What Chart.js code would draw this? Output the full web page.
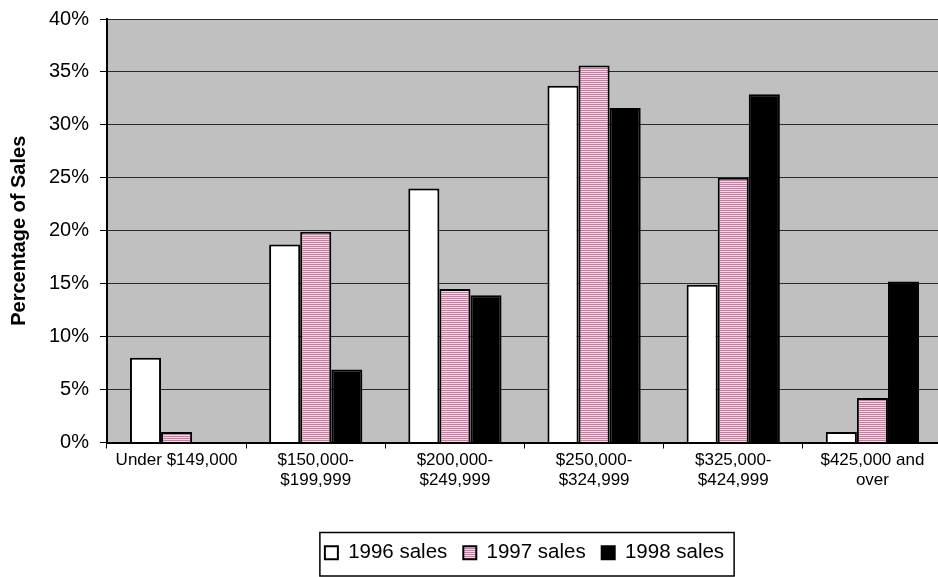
<!DOCTYPE html>
<html>
<head>
<meta charset="utf-8">
<title>Home sales by price range</title>
<script src="https://cdn.jsdelivr.net/npm/chart.js@4/dist/chart.umd.min.js"></script>
<style>
  html, body { margin: 0; padding: 0; background: #fff; overflow: hidden; }
  #chart { display: block; }
</style>
</head>
<body>
<canvas id="chart" width="942" height="577"></canvas>
<script>
// price ranges and share of sales (%) per year
const priceRanges = [
  "Under $149,000",
  ["$150,000-", "$199,999"],
  ["$200,000-", "$249,999"],
  ["$250,000-", "$324,999"],
  ["$325,000-", "$424,999"],
  ["$425,000 and", "over"],
]
const sales1996 = [8.0, 18.7, 24.0, 33.7, 14.9, 1.0]
const sales1997 = [1.0, 19.9, 14.5, 35.6, 25.0, 4.2]
const sales1998 = [0, 6.9, 13.9, 31.6, 32.9, 15.2]
const yTicks = [0, 5, 10, 15, 20, 25, 30, 35, 40]

// striped fill for the 1997 bars
function stripes() {
  const c = document.createElement("canvas")
  c.width = 4
  c.height = 2
  const g = c.getContext("2d")
  g.fillStyle = "#c97ca2"
  g.fillRect(0, 0, 4, 1)
  g.fillStyle = "#f4d6e6"
  g.fillRect(0, 1, 4, 1)
  return g.createPattern(c, "repeat")
}

// gray plot background
const plotBackground = {
  id: "plotBackground",
  beforeDraw(chart) {
    const { ctx, chartArea } = chart
    ctx.save()
    ctx.fillStyle = "#c0c0c0"
    ctx.fillRect(chartArea.left, chartArea.top, chartArea.right - chartArea.left, chartArea.bottom - chartArea.top)
    ctx.restore()
  },
}

// frame round the legend
const legendFrame = {
  id: "legendFrame",
  afterDraw(chart) {
    const boxes = chart.legend.legendHitBoxes
    if (!boxes || !boxes.length) return
    const left = Math.min(...boxes.map((b) => b.left)) - 5
    const right = Math.max(...boxes.map((b) => b.left + b.width)) + 10
    const top = boxes[0].top - 10
    const bottom = boxes[0].top + boxes[0].height + 13
    const ctx = chart.ctx
    ctx.save()
    ctx.strokeStyle = "#000"
    ctx.lineWidth = 1.5
    ctx.strokeRect(left, top, right - left, bottom - top)
    ctx.restore()
  },
}

const ctx = document.getElementById("chart")

new Chart(ctx, {
  type: "bar",
  data: {
    labels: priceRanges,
    datasets: [
      { label: "1996 sales", data: sales1996, backgroundColor: "#ffffff", borderColor: "#000", borderWidth: 2 },
      { label: "1997 sales", data: sales1997, backgroundColor: stripes(), borderColor: "#000", borderWidth: 2 },
      { label: "1998 sales", data: sales1998, backgroundColor: "#000000", borderColor: "#000", borderWidth: 2 },
    ],
  },
  options: {
    responsive: false,
    animation: false,
    layout: { padding: { top: 19, right: 0, bottom: 4, left: 0 } },
    datasets: {
      bar: { categoryPercentage: 0.67, barPercentage: 1 },
    },
    plugins: {
      legend: {
        position: "bottom",
        fullSize: false,
        labels: {
          boxWidth: 13,
          boxHeight: 13,
          padding: 16,
          color: "#000",
          font: { family: "'Liberation Sans', Arial, sans-serif", size: 20.5 },
        },
      },
      tooltip: { enabled: false },
    },
    scales: {
      x: {
        afterFit: (scale) => { scale.height = 84 },
        grid: { display: true, drawOnChartArea: false, tickLength: 6, color: "#000", lineWidth: 1 },
        border: { color: "#000", width: 2 },
        ticks: {
          color: "#000",
          padding: 2,
          maxRotation: 0,
          autoSkip: false,
          font: { family: "'Liberation Sans', Arial, sans-serif", size: 17, lineHeight: 1.18 },
        },
      },
      y: {
        min: 0,
        max: 40,
        afterFit: (scale) => {
          scale.width = 107
          scale.paddingTop = 0
          scale.paddingBottom = 0
        },
        afterBuildTicks: (scale) => { scale.ticks = yTicks.map((v) => ({ value: v })) },
        grid: { color: "#2a2a2a", lineWidth: 1, tickLength: 7, tickColor: "#000" },
        border: { color: "#000", width: 2 },
        ticks: {
          color: "#000",
          padding: 11,
          callback: (v) => v + "%",
          font: { family: "'Liberation Sans', Arial, sans-serif", size: 20 },
        },
        title: {
          display: true,
          text: "Percentage of Sales",
          color: "#000",
          padding: { top: 7, bottom: 0 },
          font: { family: "'Liberation Sans', Arial, sans-serif", size: 20, weight: "bold" },
        },
      },
    },
  },
  plugins: [plotBackground, legendFrame],
})
</script>
</body>
</html>
